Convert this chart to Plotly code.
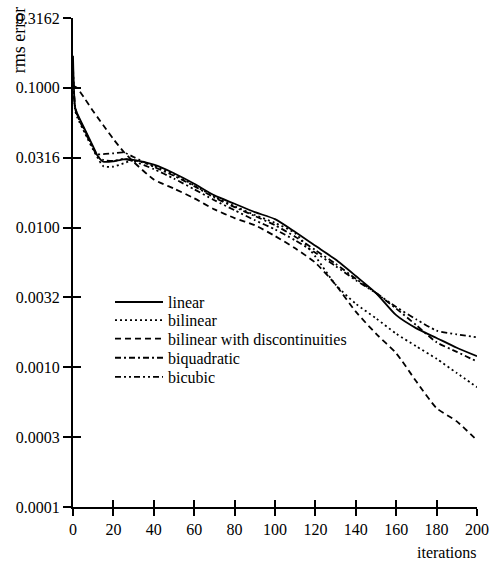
import plotly.graph_objects as go

iterations = [0, 1, 2, 6, 10, 12, 15, 20, 25, 30, 40, 50, 60, 70, 80, 90, 100,
              110, 120, 130, 140, 150, 160, 170, 180, 190, 200]

linear = [0.17, 0.073, 0.066, 0.050, 0.038, 0.033, 0.0296, 0.0298, 0.0308, 0.0305,
          0.0282, 0.0245, 0.0206, 0.0170, 0.0148, 0.0129, 0.0115, 0.0093, 0.0074,
          0.0059, 0.0045, 0.0034, 0.00236, 0.0019, 0.00162, 0.00138, 0.0012]
bilinear = [0.13, 0.07, 0.062, 0.047, 0.036, 0.032, 0.0275, 0.0273, 0.0288, 0.0303,
            0.0276, 0.024, 0.0201, 0.0166, 0.0142, 0.0123, 0.0108, 0.0091, 0.0062,
            0.0039, 0.00285, 0.00224, 0.00174, 0.00141, 0.00115, 0.00091, 0.00072]
bilinear_disc = [0.105, 0.102, 0.100, 0.083, 0.068, 0.062, 0.054, 0.043, 0.035, 0.0295,
                 0.0221, 0.019, 0.0162, 0.0135, 0.0117, 0.0104, 0.0087, 0.0071, 0.0056,
                 0.0039, 0.0025, 0.00174, 0.00126, 0.00079, 0.00051, 0.00041, 0.0003]
biquadratic = [0.14, 0.072, 0.064, 0.048, 0.037, 0.0335, 0.0335, 0.034, 0.0345, 0.032,
               0.0272, 0.0235, 0.0198, 0.0164, 0.014, 0.0121, 0.0104, 0.0086, 0.0069,
               0.0055, 0.0043, 0.0034, 0.00263, 0.002, 0.00151, 0.00129, 0.0011]
bicubic = [0.12, 0.075, 0.065, 0.049, 0.037, 0.0325, 0.0305, 0.030, 0.031, 0.0298,
           0.0262, 0.0224, 0.0188, 0.0157, 0.0133, 0.0113, 0.0097, 0.0081, 0.0066,
           0.0053, 0.0042, 0.0034, 0.0027, 0.0022, 0.00183, 0.00172, 0.00164]

series_names = ["linear", "bilinear", "bilinear with discontinuities", "biquadratic", "bicubic"]
series_values = [linear, bilinear, bilinear_disc, biquadratic, bicubic]
dashes = ["solid", "2px,3px", "6px,4px", "6px,3px,2px,3px", "6px,3px,2px,3px,2px,3px"]

x_ticks = [0, 20, 40, 60, 80, 100, 120, 140, 160, 180, 200]
y_tickvals = [10**-0.5, 1e-1, 10**-1.5, 1e-2, 10**-2.5, 1e-3, 10**-3.5, 1e-4]
y_ticktext = ["0.3162", "0.1000", "0.0316", "0.0100", "0.0032", "0.0010", "0.0003", "0.0001"]

FONT = "Liberation Serif"
legend_ids = ["legend", "legend2", "legend3", "legend4", "legend5"]
legend_rows = [0.419, 0.382, 0.344, 0.305, 0.266]

fig = go.Figure()
for name, vals, dash, lid in zip(series_names, series_values, dashes, legend_ids):
    fig.add_trace(go.Scatter(
        x=iterations, y=vals, mode="lines", name=name, legend=lid,
        line=dict(color="black", width=1.8, dash=dash, shape="spline", smoothing=0.6),
    ))

# dummy trace on overlay axes (for inside half of crossing ticks)
fig.add_trace(go.Scatter(x=[None], y=[None], xaxis="x2", yaxis="y2",
                         showlegend=False, hoverinfo="skip"))

legend_style = dict(xanchor="left", yanchor="middle", bgcolor="rgba(0,0,0,0)",
                    font=dict(family=FONT, size=16, color="black"), itemwidth=48,
                    borderwidth=0)
layout_legends = {lid: dict(x=0.0916, y=ly, **legend_style)
                  for lid, ly in zip(legend_ids, legend_rows)}

fig.update_layout(
    width=492, height=563,
    margin=dict(l=73, r=15, t=18, b=56, autoexpand=False),
    paper_bgcolor="white", plot_bgcolor="white",
    font=dict(family=FONT, size=16, color="black"),
    showlegend=True,
    xaxis=dict(range=[0, 200], tickvals=x_ticks, ticks="outside", ticklen=7,
               tickwidth=1.8, tickcolor="black", showline=True, linecolor="black",
               linewidth=2, showgrid=False, zeroline=False, automargin=False,
               tickfont=dict(family=FONT, size=16)),
    yaxis=dict(type="log", range=[-4, -0.5], tickvals=y_tickvals, ticktext=y_ticktext,
               ticks="outside", ticklen=8, tickwidth=1.8, tickcolor="black",
               showline=True, linecolor="black", linewidth=2, showgrid=False,
               zeroline=False, automargin=False, tickfont=dict(family=FONT, size=16)),
    xaxis2=dict(overlaying="x", range=[0, 200], tickvals=x_ticks, ticks="inside",
                ticklen=7, tickwidth=1.8, tickcolor="black", showticklabels=False,
                showline=False, showgrid=False, zeroline=False, anchor="y",
                side="bottom", automargin=False),
    yaxis2=dict(overlaying="y", type="log", range=[-4, -0.5], tickvals=y_tickvals,
                ticks="inside", ticklen=8, tickwidth=1.8, tickcolor="black",
                showticklabels=False, showline=False, showgrid=False, zeroline=False,
                anchor="x", side="left", automargin=False),
    annotations=[
        dict(text="rms error", xref="paper", yref="paper", x=-0.134, y=1.026,
             xanchor="center", yanchor="top", textangle=-90, showarrow=False,
             font=dict(family=FONT, size=18)),
        dict(text="iterations", xref="paper", yref="paper", x=0.926, y=-0.094,
             xanchor="center", yanchor="middle", showarrow=False,
             font=dict(family=FONT, size=16)),
    ],
    **layout_legends,
)

fig.write_html("out.html", config={"displayModeBar": False},
               post_script="document.body.style.margin='0';")
